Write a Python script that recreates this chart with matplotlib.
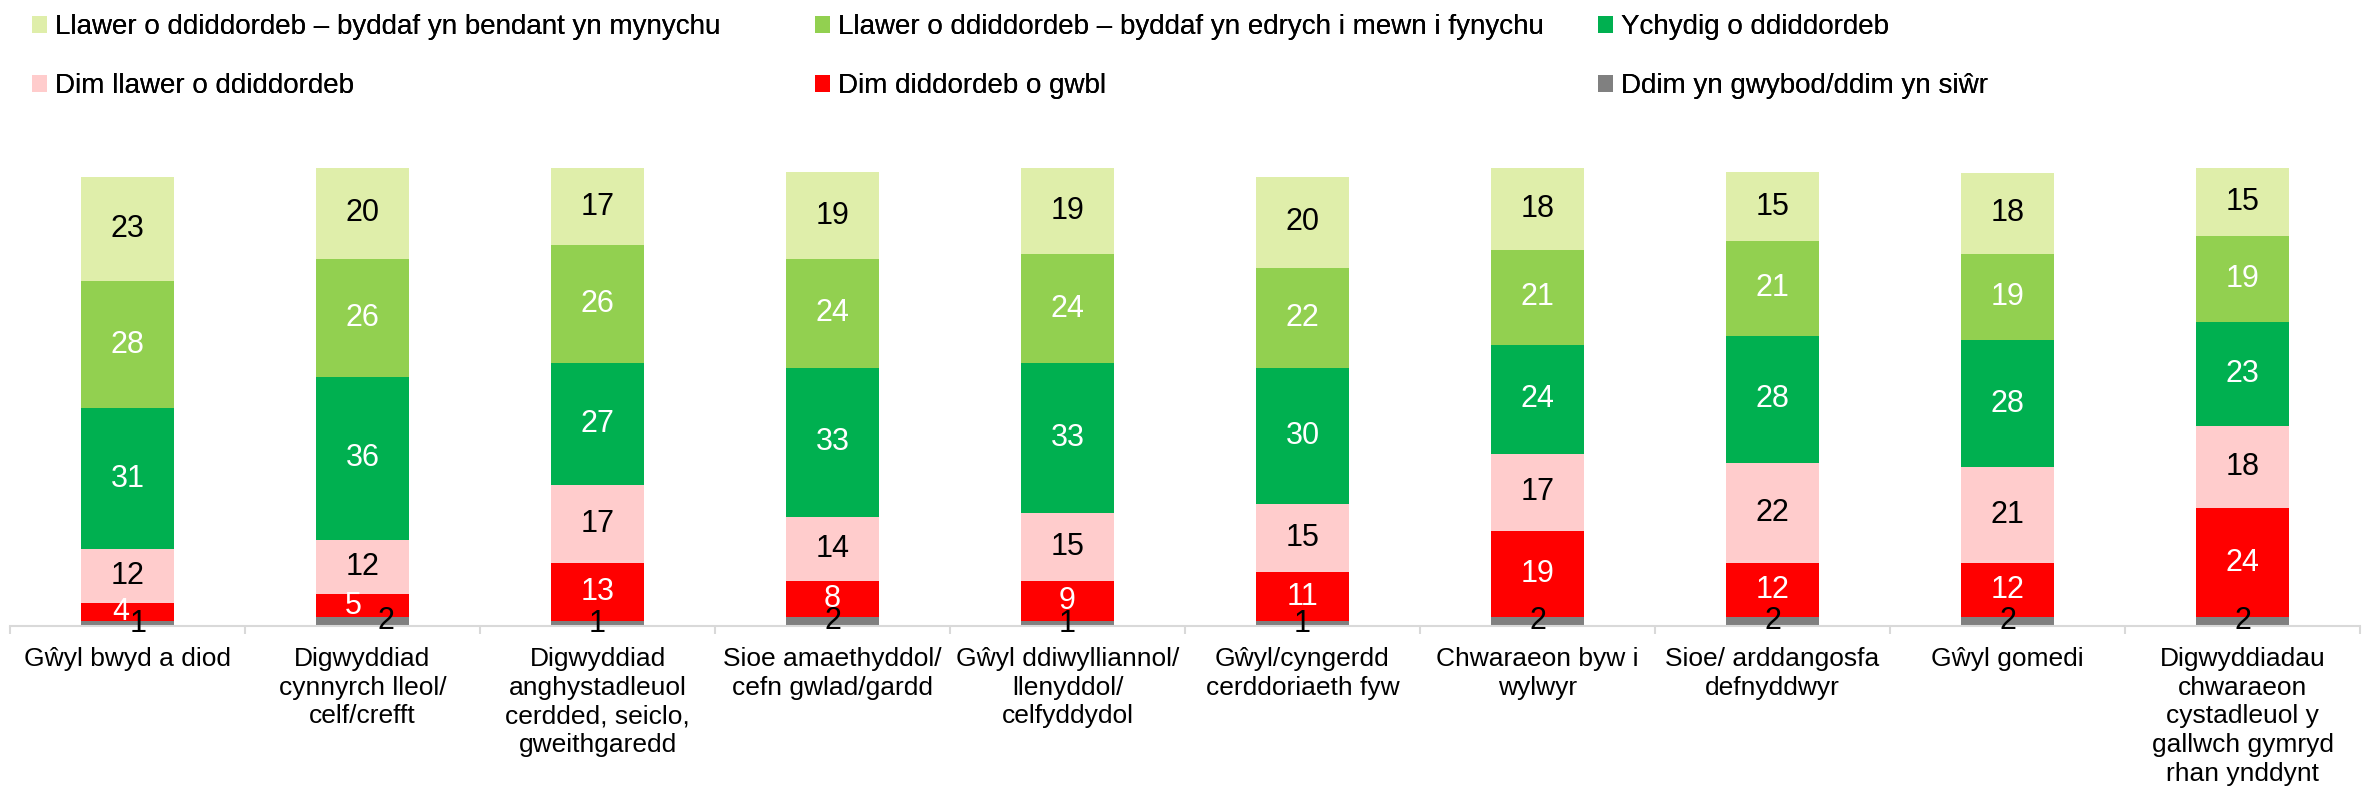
import numpy as np
import matplotlib.pyplot as plt

plt.rcParams['font.family'] = ['Liberation Sans', 'DejaVu Sans']

categories = [
    'Gŵyl bwyd a diod',
    'Digwyddiad\ncynnyrch lleol/\ncelf/crefft',
    'Digwyddiad\nanghystadleuol\ncerdded, seiclo,\ngweithgaredd',
    'Sioe amaethyddol/\ncefn gwlad/gardd',
    'Gŵyl ddiwylliannol/\nllenyddol/\ncelfyddydol',
    'Gŵyl/cyngerdd\ncerddoriaeth fyw',
    'Chwaraeon byw i\nwylwyr',
    'Sioe/ arddangosfa\ndefnyddwyr',
    'Gŵyl gomedi',
    'Digwyddiadau\nchwaraeon\ncystadleuol y\ngallwch gymryd\nrhan ynddynt',
]

# stacked from the bottom up
ddim_gwybod = [1, 2, 1, 2, 1, 1, 2, 2, 2, 2]
dim_o_gwbl = [4, 5, 13, 8, 9, 11, 19, 12, 12, 24]
dim_llawer = [12, 12, 17, 14, 15, 15, 17, 22, 21, 18]
ychydig = [31, 36, 27, 33, 33, 30, 24, 28, 28, 23]
edrych_i_fynychu = [28, 26, 26, 24, 24, 22, 21, 21, 19, 19]
bendant_mynychu = [23, 20, 17, 19, 19, 20, 18, 15, 18, 15]

series = [
    (ddim_gwybod, 'Ddim yn gwybod/ddim yn siŵr', '#808080', 'black'),
    (dim_o_gwbl, 'Dim diddordeb o gwbl', '#ff0000', 'white'),
    (dim_llawer, 'Dim llawer o ddiddordeb', '#ffcccc', 'black'),
    (ychydig, 'Ychydig o ddiddordeb', '#00b050', 'white'),
    (edrych_i_fynychu, 'Llawer o ddiddordeb – byddaf yn edrych i mewn i fynychu', '#92d050', 'white'),
    (bendant_mynychu, 'Llawer o ddiddordeb – byddaf yn bendant yn mynychu', '#dfeeaa', 'black'),
]

W, H = 2367, 795
fig = plt.figure(figsize=(W / 100, H / 100), dpi=100)
ax = fig.add_axes([10 / W, 1 - 626 / H, 2350 / W, 105 * 4.535 / H])

# where the red and grey segments are both thin, push their labels apart
nudge = {0: (-0.03, 0.045), 1: (-0.04, 0.1)}

x = np.arange(len(categories))
bottom = np.zeros(len(categories))
bars = {}
for vals, name, color, tcol in series:
    vals = np.array(vals, dtype=float)
    bars[name] = ax.bar(x, vals, width=0.397, bottom=bottom, color=color, label=name)
    for i, v in enumerate(vals):
        dx = 0
        if i in nudge and color == '#ff0000':
            dx = nudge[i][0]
        elif i in nudge and color == '#808080':
            dx = nudge[i][1]
        ax.text(x[i] + dx, bottom[i] + v / 2, f'{v:.0f}', ha='center', va='center',
                fontsize=22, color=tcol)
    bottom += vals

ax.set_xlim(-0.5, len(categories) - 0.5)
ax.set_ylim(0, 105)
ax.set_yticks([])
for s in ['top', 'right', 'left']:
    ax.spines[s].set_visible(False)
ax.spines['bottom'].set_color('#d9d9d9')
ax.spines['bottom'].set_linewidth(1.5)

ax.set_xticks(x)
ax.set_xticklabels(categories, fontsize=19, linespacing=1.25)
ax.tick_params(axis='x', which='major', length=0, pad=15)
ax.set_xticks(np.arange(-0.5, len(categories)), minor=True)
ax.tick_params(axis='x', which='minor', length=6, width=1.5, color='#d9d9d9')

# legend in three columns, top left to right
order = [
    ['Llawer o ddiddordeb – byddaf yn bendant yn mynychu', 'Dim llawer o ddiddordeb'],
    ['Llawer o ddiddordeb – byddaf yn edrych i mewn i fynychu', 'Dim diddordeb o gwbl'],
    ['Ychydig o ddiddordeb', 'Ddim yn gwybod/ddim yn siŵr'],
]
col_x = [32, 815, 1598]
for names, cx in zip(order, col_x):
    leg = fig.legend([bars[n] for n in names], names, loc='upper left',
                     bbox_to_anchor=(cx / W, 1 - 14 / H), frameon=False,
                     fontsize=20, handlelength=0.55, handleheight=0.55,
                     handletextpad=0.28, labelspacing=1.2, borderpad=0,
                     borderaxespad=0)
    fig.add_artist(leg)

fig.savefig('out.png', dpi=100)
